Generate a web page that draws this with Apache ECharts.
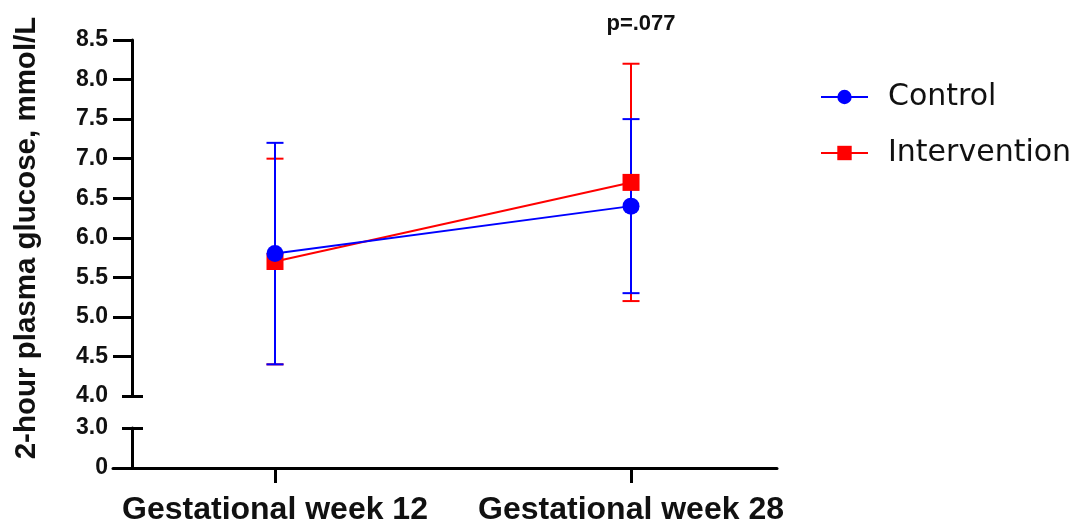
<!DOCTYPE html>
<html>
<head>
<meta charset="utf-8">
<script src="https://cdn.jsdelivr.net/npm/echarts@6/dist/echarts.min.js"></script>
<style>
html,body{margin:0;padding:0;background:#fff;}
#chart{width:1077px;height:526px;}
</style>
</head>
<body>
<div id="chart"></div>
<script>
// ---- data ----
const categories = ['Gestational week 12', 'Gestational week 28'];
const seriesNames = ['Control', 'Intervention'];
const controlMean = [5.8, 6.4];
const controlLow = [4.4, 5.3];
const controlHigh = [7.2, 7.5];
const interventionMean = [5.7, 6.7];
const interventionLow = [4.4, 5.2];
const interventionHigh = [7.0, 8.2];
const upperTicks = [4.0, 4.5, 5.0, 5.5, 6.0, 6.5, 7.0, 7.5, 8.0, 8.5];
const lowerTicks = [0, 3.0];
const pText = 'p=.077';
const yTitle = '2-hour plasma glucose, mmol/L';

const BLUE = '#0000ff';
const RED = '#ff0000';
const FONT = '"Liberation Sans", Arial, sans-serif';
const xMin = -0.455, xMax = 1.41;
const catIdx = categories.map((c, i) => i);

function errData(lo, hi) { return catIdx.map(i => [i, lo[i], hi[i]]); }
function lineData(m) { return catIdx.map(i => [i, m[i]]); }
function errRender(color) {
  return function (params, api) {
    const x = api.value(0), lo = api.value(1), hi = api.value(2);
    const a = api.coord([x, lo]), b = api.coord([x, hi]);
    const hw = 8.5;
    const st = { stroke: color, lineWidth: 2 };
    return { type: 'group', children: [
      { type: 'line', shape: { x1: a[0], y1: a[1], x2: b[0], y2: b[1] }, style: st },
      { type: 'line', shape: { x1: a[0] - hw, y1: a[1], x2: a[0] + hw, y2: a[1] }, style: st },
      { type: 'line', shape: { x1: b[0] - hw, y1: b[1], x2: b[0] + hw, y2: b[1] }, style: st }
    ]};
  };
}

const axisLineStyle = { color: '#000', width: 3 };
const tickLabel = { color: '#111', fontFamily: FONT, fontWeight: 'bold', fontSize: 23 };
const chart = echarts.init(document.getElementById('chart'), null, { renderer: 'canvas' });
chart.setOption({
  animation: false,
  backgroundColor: '#fff',
  grid: [
    { left: 113, right: 300, top: 40, bottom: 130 },
    { left: 113, right: 300, top: 428, bottom: 58 }
  ],
  xAxis: [
    { gridIndex: 0, type: 'value', min: xMin, max: xMax, show: false },
    { gridIndex: 1, type: 'value', min: xMin, max: xMax,
      axisLine: { onZero: false, lineStyle: axisLineStyle },
      axisTick: { customValues: catIdx, length: 15, lineStyle: { color: '#000', width: 3 } },
      axisLabel: { customValues: catIdx, formatter: v => categories[Math.round(v)] || '',
        margin: 26, color: '#111', fontFamily: FONT, fontWeight: 'bold', fontSize: 32 },
      splitLine: { show: false } }
  ],
  yAxis: [
    { gridIndex: 0, type: 'value', min: 4, max: 8.5, interval: 0.5, offset: -19,
      axisLine: { show: true, onZero: false, lineStyle: axisLineStyle },
      axisTick: { show: true, customValues: upperTicks.slice(1), length: 19, lineStyle: { color: '#000', width: 3 } },
      axisLabel: Object.assign({ customValues: upperTicks, formatter: v => v.toFixed(1), margin: 24 }, tickLabel),
      splitLine: { show: false } },
    { gridIndex: 0, type: 'value', min: 4, max: 8.5, offset: -30, position: 'left',
      axisLine: { show: false, onZero: false },
      axisTick: { show: true, customValues: [upperTicks[0]], length: 21, lineStyle: { color: '#000', width: 3 } },
      axisLabel: { show: false }, splitLine: { show: false } },
    { gridIndex: 1, type: 'value', min: 0, max: 3, interval: 3, offset: -19,
      axisLine: { show: true, onZero: false, lineStyle: axisLineStyle },
      axisTick: { show: false },
      axisLabel: Object.assign({ customValues: lowerTicks, formatter: v => (v === 0 ? '0' : v.toFixed(1)), margin: 24 }, tickLabel),
      splitLine: { show: false } },
    { gridIndex: 1, type: 'value', min: 0, max: 3, offset: -30, position: 'left',
      axisLine: { show: false, onZero: false },
      axisTick: { show: true, customValues: [lowerTicks[1]], length: 21, lineStyle: { color: '#000', width: 3 } },
      axisLabel: { show: false }, splitLine: { show: false } }
  ],
  legend: {
    data: seriesNames,
    orient: 'vertical',
    left: 815, top: 77,
    itemWidth: 47, itemHeight: 18, itemGap: 26,
    textStyle: { fontFamily: '"DejaVu Sans", sans-serif', fontSize: 30, color: '#111', lineHeight: 30, padding: [0, 0, 0, 15] }
  },
  graphic: [
    { type: 'text', x: 641, y: 24, style: { text: pText, font: 'bold 22px ' + FONT, fill: '#111', align: 'center', verticalAlign: 'middle' } },
    { type: 'text', x: 27, y: 238, rotation: Math.PI / 2, style: { text: yTitle, font: 'bold 29.5px ' + FONT, fill: '#111', align: 'center', verticalAlign: 'middle' } }
  ],
  series: [
    { type: 'custom', name: 'Intervention err', xAxisIndex: 0, yAxisIndex: 0, z: 2,
      renderItem: errRender(RED), encode: { x: 0, y: [1, 2] }, data: errData(interventionLow, interventionHigh) },
    { type: 'custom', name: 'Control err', xAxisIndex: 0, yAxisIndex: 0, z: 3,
      renderItem: errRender(BLUE), encode: { x: 0, y: [1, 2] }, data: errData(controlLow, controlHigh) },
    { type: 'line', name: 'Intervention', xAxisIndex: 0, yAxisIndex: 0, z: 4,
      data: lineData(interventionMean), symbol: 'rect', symbolSize: 17,
      itemStyle: { color: RED }, lineStyle: { color: RED, width: 2 } },
    { type: 'line', name: 'Control', xAxisIndex: 0, yAxisIndex: 0, z: 5,
      data: lineData(controlMean), symbol: 'circle', symbolSize: 17,
      itemStyle: { color: BLUE }, lineStyle: { color: BLUE, width: 2 } }
  ]
});
</script>
</body>
</html>
